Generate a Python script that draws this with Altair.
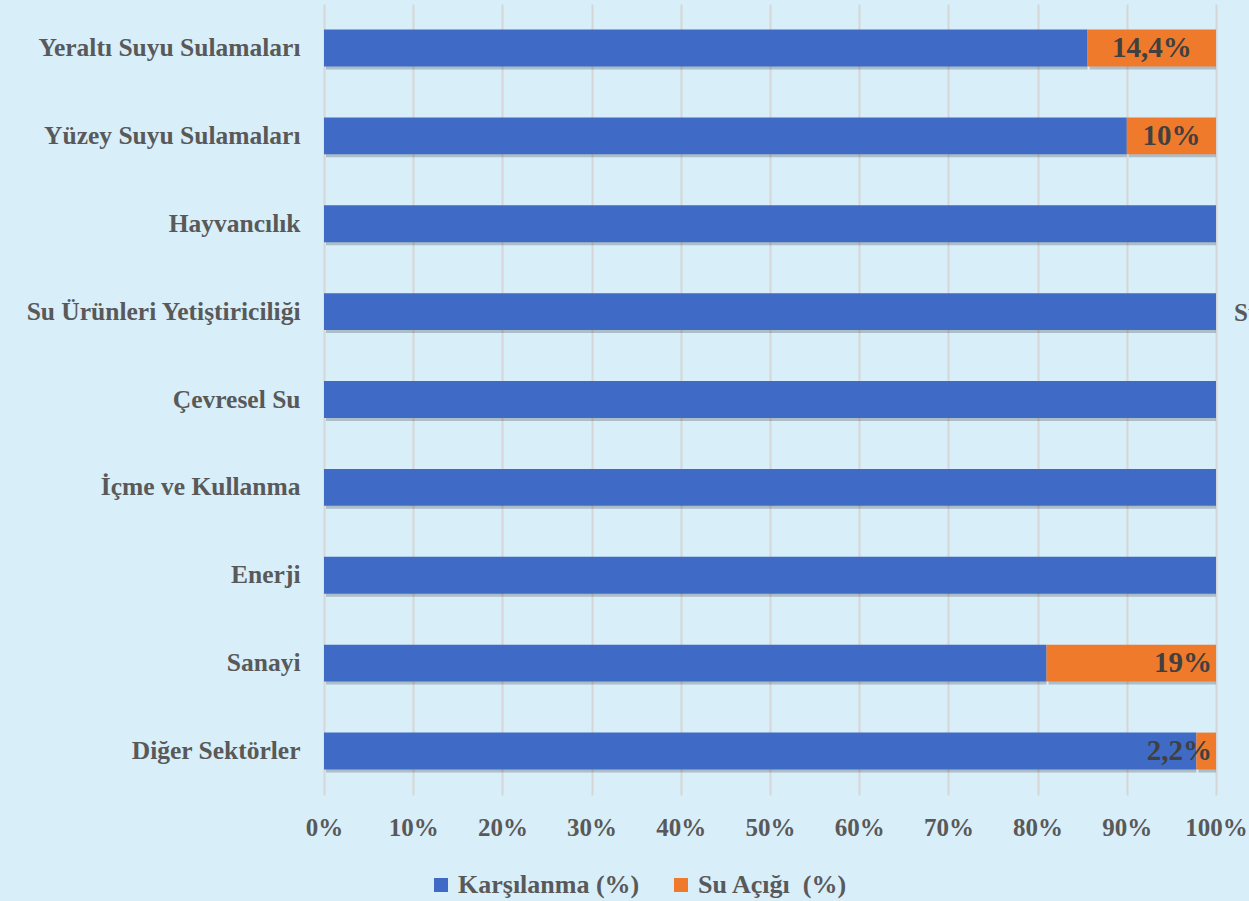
import altair as alt
import pandas as pd

categories = ["Yeraltı Suyu Sulamaları", "Yüzey Suyu Sulamaları", "Hayvancılık",
              "Su Ürünleri Yetiştiriciliği", "Çevresel Su", "İçme ve Kullanma",
              "Enerji", "Sanayi", "Diğer Sektörler"]
karsilanma = [85.6, 90, 100, 100, 100, 100, 100, 81, 97.8]
su_acigi = [14.4, 10, 0, 0, 0, 0, 0, 19, 2.2]
label_text = ["14,4%", "10%", "", "", "", "", "", "19%", "2,2%"]
label_pos = ["center", "center", "", "", "", "", "", "end", "end"]
series_names = ["Karşılanma (%)", "Su Açığı\u00a0 (%)"]
x_ticks = [0, 10, 20, 30, 40, 50, 60, 70, 80, 90, 100]

rows = []
for i, c in enumerate(categories):
    rows.append({"cat": c, "series": series_names[0], "start": 0, "end": karsilanma[i], "order": 0})
    rows.append({"cat": c, "series": series_names[1], "start": karsilanma[i],
                 "end": karsilanma[i] + su_acigi[i], "order": 1})
df = pd.DataFrame(rows)
df = df[df["end"] > df["start"]]

lab = pd.DataFrame({
    "cat": categories,
    "text": label_text,
    "pos": label_pos,
    "mid": [k + s / 2 for k, s in zip(karsilanma, su_acigi)],
    "endv": [k + s for k, s in zip(karsilanma, su_acigi)],
})
lab = lab[lab["text"] != ""]

FONT = "Liberation Serif"
GRAY = "#595959"

y_enc = alt.Y("cat:N", sort=categories, title=None,
              scale=alt.Scale(paddingInner=0.58, paddingOuter=0.29),
              axis=alt.Axis(labelFont=FONT, labelFontSize=25.5, labelFontWeight="bold",
                            labelColor=GRAY, labelPadding=24, ticks=False, domain=False,
                            grid=False, labelLimit=400))
x_scale = alt.Scale(domain=[0, 100], nice=False)
x_axis = alt.Axis(values=x_ticks, labelExpr="datum.value + '%'", labelFont=FONT,
                  labelFontSize=25, labelFontWeight="bold", labelColor=GRAY,
                  labelPadding=20, labelFlush=False, labelOverlap=False,
                  ticks=False, domain=False, grid=True,
                  gridColor="#d6d6d6", gridWidth=2)

shadow = alt.Chart(df).mark_bar(color="#000000", opacity=0.2, yOffset=3, xOffset=2).encode(
    x=alt.X("start:Q", scale=x_scale, title=None, axis=x_axis),
    x2="end:Q",
    y=y_enc,
)

bars = alt.Chart(df).mark_bar().encode(
    x=alt.X("start:Q", scale=x_scale, title=None, axis=x_axis),
    x2="end:Q",
    y=y_enc,
    color=alt.Color("series:N", scale=alt.Scale(domain=series_names, range=["#3f6bc6", "#ef7a2b"]),
                    legend=alt.Legend(title=None, orient="none", legendX=104, legendY=868,
                                      direction="horizontal", symbolType="square",
                                      symbolSize=196, symbolStrokeWidth=0, labelFont=FONT,
                                      labelFontSize=26, labelFontWeight="bold", labelLimit=400,
                                      labelColor=GRAY, columnPadding=28, labelOffset=4)),
    order="order:Q",
)

lab_c = alt.Chart(lab[lab["pos"] == "center"]).mark_text(
    font=FONT, fontSize=29, fontWeight="bold", color="#404040", align="center", baseline="middle"
).encode(x=alt.X("mid:Q", scale=x_scale), y=alt.Y("cat:N", sort=categories), text="text:N")

lab_e = alt.Chart(lab[lab["pos"] == "end"]).mark_text(
    font=FONT, fontSize=29, fontWeight="bold", color="#404040", align="right", baseline="middle", dx=-4
).encode(x=alt.X("endv:Q", scale=x_scale), y=alt.Y("cat:N", sort=categories), text="text:N")

su_df = pd.DataFrame({"cat": ["Su Ürünleri Yetiştiriciliği"], "x": [100], "t": ["Su"]})
su_txt = alt.Chart(su_df).mark_text(
    font=FONT, fontSize=25, fontWeight="bold", color=GRAY, align="left", baseline="middle", dx=18, dy=1
).encode(x=alt.X("x:Q", scale=x_scale), y=alt.Y("cat:N", sort=categories), text="t:N")

chart = alt.layer(shadow, bars, lab_c, lab_e, su_txt).properties(
    width=892, height=791,
    background="#d8eef9",
    padding={"left": 324, "top": 4, "right": 33, "bottom": 106},
    autosize=alt.AutoSizeParams(type="none"),
).configure_view(stroke=None)

chart.save("out.html", embed_options={"renderer": "svg", "actions": False})
